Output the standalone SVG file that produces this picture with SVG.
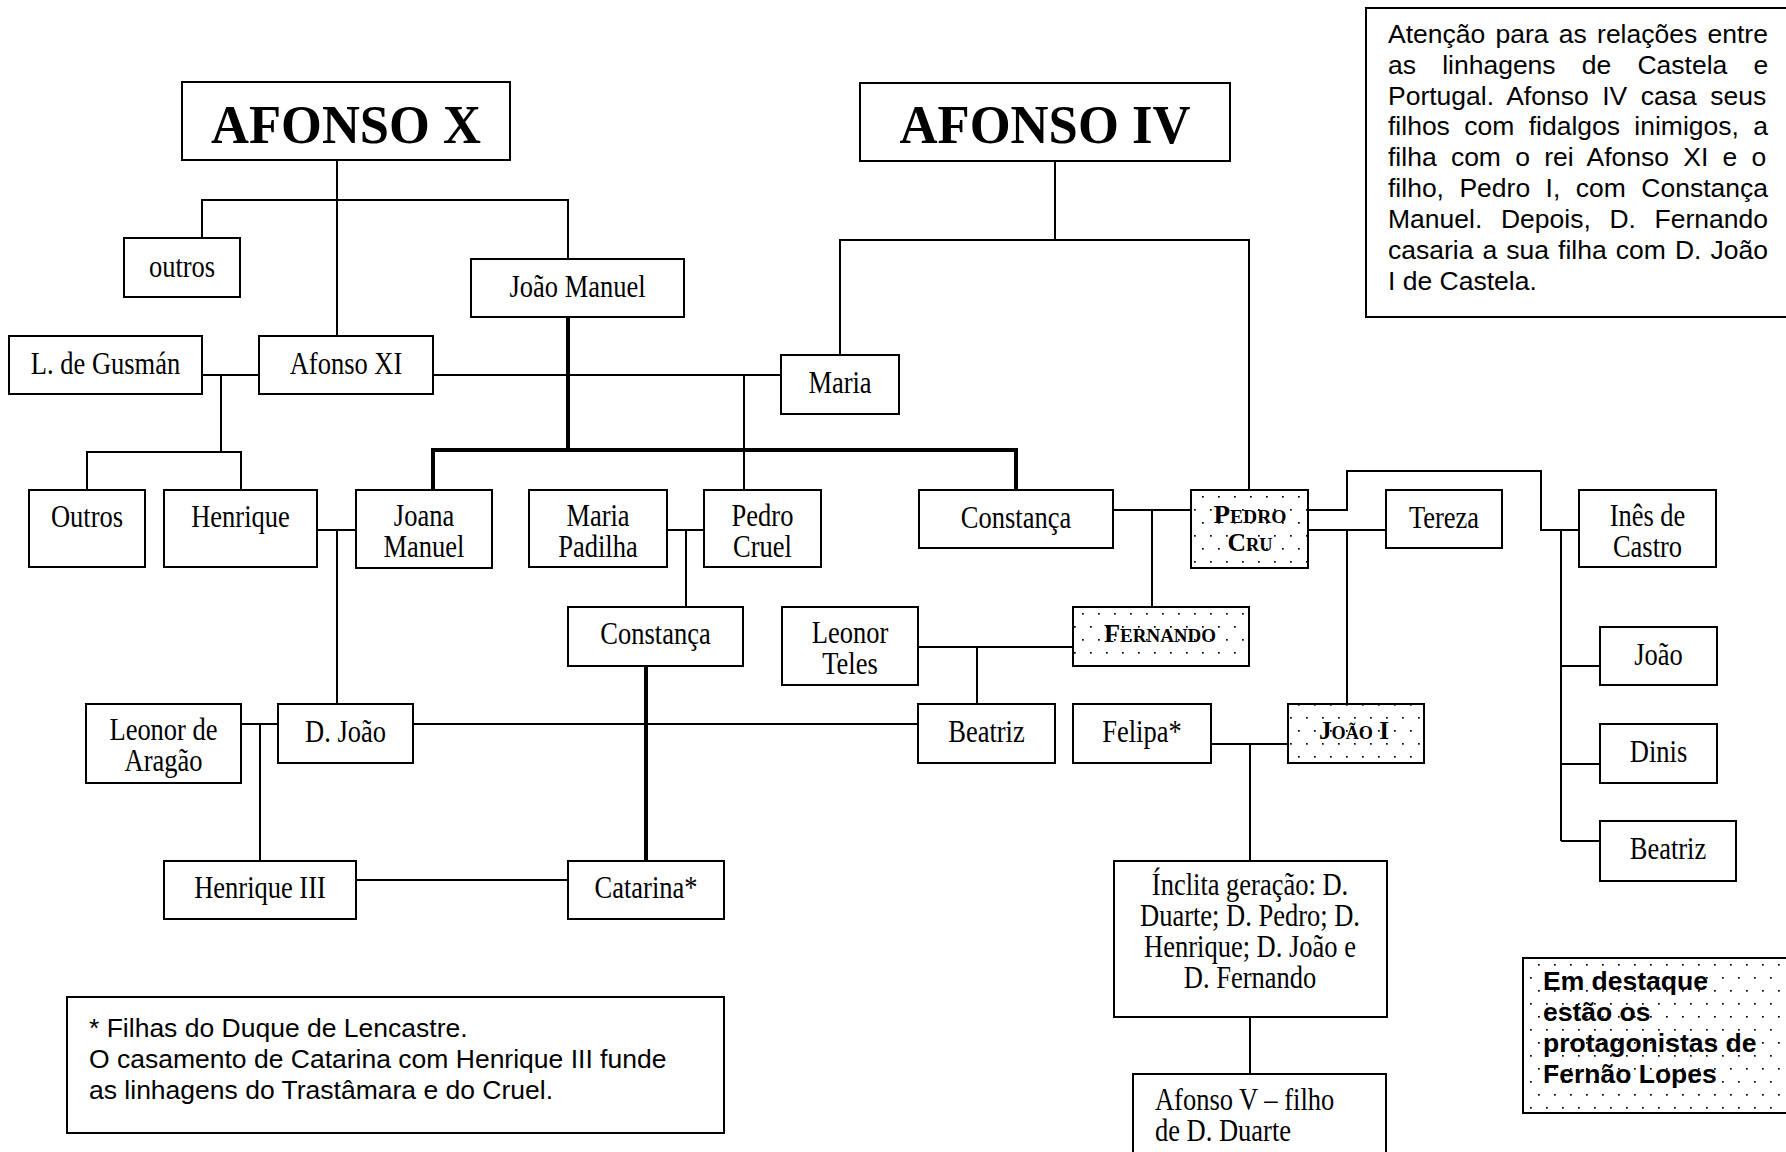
<svg xmlns="http://www.w3.org/2000/svg" width="1786" height="1152" viewBox="0 0 1786 1152">
<defs>
<pattern id="dots" width="16" height="26" patternUnits="userSpaceOnUse">
<rect width="16" height="26" fill="#fff"/>
<rect x="2" y="2" width="1.7" height="1.7" fill="#000"/>
<rect x="10" y="15" width="1.7" height="1.7" fill="#000"/>
</pattern>
<style>
.box{fill:#fff;stroke:#000;stroke-width:2}
.dot{fill:url(#dots);stroke:#000;stroke-width:2}
.n{font-family:"Liberation Serif","Times New Roman",serif;font-size:32px;text-anchor:middle;fill:#000}
.s{text-anchor:start}
.sc{font-family:"Liberation Serif","Times New Roman",serif;font-weight:bold;font-variant:small-caps;font-size:25px;text-anchor:middle;fill:#000}
.title{font-family:"Liberation Serif","Times New Roman",serif;font-weight:bold;font-size:54px;text-anchor:middle;fill:#000}
.t{font-family:"Liberation Sans",Arial,sans-serif;font-size:26.5px;fill:#000}
.tb{font-family:"Liberation Sans",Arial,sans-serif;font-size:26.5px;font-weight:bold;fill:#000}
.ln{fill:none;stroke:#000;stroke-width:2}
.thick{fill:none;stroke:#000;stroke-width:4}
</style>
</defs>
<rect width="1786" height="1152" fill="#fff"/>

<g id="connectors">
<path class="ln" d="M337,160 V336"/>
<path class="ln" d="M202,238 V200 H568 V259"/>
<path class="ln" d="M202,375 H259"/>
<path class="ln" d="M221,375 V452"/>
<path class="ln" d="M87,490 V452 H241 V490"/>
<path class="ln" d="M433,375 H781"/>
<path class="ln" d="M744,375 V490"/>
<path class="ln" d="M1055,161 V240"/>
<path class="ln" d="M840,355 V240 H1249 V490"/>
<path class="ln" d="M317,530 H356"/>
<path class="ln" d="M337,530 V704"/>
<path class="ln" d="M667,530 H704"/>
<path class="ln" d="M686,530 V607"/>
<path class="ln" d="M241,724 H278"/>
<path class="ln" d="M260,724 V861"/>
<path class="ln" d="M413,724 H918"/>
<path class="ln" d="M356,880 H568"/>
<path class="ln" d="M1113,510 H1191"/>
<path class="ln" d="M1152,510 V607"/>
<path class="ln" d="M918,647 H1073"/>
<path class="ln" d="M977,647 V704"/>
<path class="ln" d="M1308,510 H1347 V471 H1541 V530 H1579"/>
<path class="ln" d="M1308,530 H1386"/>
<path class="ln" d="M1347,530 V704"/>
<path class="ln" d="M1211,744 H1288"/>
<path class="ln" d="M1250,744 V861"/>
<path class="ln" d="M1250,1017 V1074"/>
<path class="ln" d="M1561,530 V841 M1561,666 H1600 M1561,764 H1600 M1561,841 H1600"/>
<path class="thick" d="M568,317 V450"/>
<path class="thick" d="M433,490 V450 H1016 V490"/>
<path class="thick" d="M646,666 V861"/>
</g>

<g id="afonso-x"><rect class="box" x="182" y="82" width="328" height="78"/><text class="title" x="346" y="143" textLength="270" lengthAdjust="spacingAndGlyphs">AFONSO X</text></g>
<g id="afonso-iv"><rect class="box" x="860" y="83" width="370" height="78"/><text class="title" x="1045" y="143" textLength="291" lengthAdjust="spacingAndGlyphs">AFONSO IV</text></g>
<g id="outros-1"><rect class="box" x="124" y="238" width="116" height="59"/><text class="n" transform="matrix(0.828 0 0 1 182 0)" x="0" y="277">outros</text></g>
<g id="joao-manuel"><rect class="box" x="471" y="259" width="213" height="58"/><text class="n" transform="matrix(0.828 0 0 1 577.5 0)" x="0" y="297">João Manuel</text></g>
<g id="gusman"><rect class="box" x="9" y="336" width="193" height="58"/><text class="n" transform="matrix(0.828 0 0 1 105.5 0)" x="0" y="374">L. de Gusmán</text></g>
<g id="afonso-xi"><rect class="box" x="259" y="336" width="174" height="58"/><text class="n" transform="matrix(0.828 0 0 1 346 0)" x="0" y="374">Afonso XI</text></g>
<g id="maria"><rect class="box" x="781" y="355" width="118" height="59"/><text class="n" transform="matrix(0.828 0 0 1 840 0)" x="0" y="393">Maria</text></g>
<g id="outros-2"><rect class="box" x="29" y="490" width="116" height="77"/><text class="n" transform="matrix(0.828 0 0 1 87 0)" x="0" y="527">Outros</text></g>
<g id="henrique"><rect class="box" x="164" y="490" width="153" height="77"/><text class="n" transform="matrix(0.828 0 0 1 240.5 0)" x="0" y="527">Henrique</text></g>
<g id="joana-manuel"><rect class="box" x="356" y="490" width="136" height="78"/><text class="n" transform="matrix(0.828 0 0 1 424 0)" x="0" y="526">Joana</text><text class="n" transform="matrix(0.828 0 0 1 424 0)" x="0" y="557">Manuel</text></g>
<g id="maria-padilha"><rect class="box" x="529" y="490" width="138" height="77"/><text class="n" transform="matrix(0.828 0 0 1 598 0)" x="0" y="526">Maria</text><text class="n" transform="matrix(0.828 0 0 1 598 0)" x="0" y="557">Padilha</text></g>
<g id="pedro-cruel"><rect class="box" x="704" y="490" width="117" height="77"/><text class="n" transform="matrix(0.828 0 0 1 762.5 0)" x="0" y="526">Pedro</text><text class="n" transform="matrix(0.828 0 0 1 762.5 0)" x="0" y="557">Cruel</text></g>
<g id="constanca-1"><rect class="box" x="919" y="490" width="194" height="58"/><text class="n" transform="matrix(0.828 0 0 1 1016 0)" x="0" y="528">Constança</text></g>
<g id="pedro-cru"><rect class="dot" x="1191" y="490" width="117" height="78"/><text class="sc" x="1250" y="523" textLength="73" lengthAdjust="spacingAndGlyphs">Pedro</text><text class="sc" x="1250" y="551" textLength="45" lengthAdjust="spacingAndGlyphs">Cru</text></g>
<g id="tereza"><rect class="box" x="1386" y="490" width="116" height="58"/><text class="n" transform="matrix(0.828 0 0 1 1444 0)" x="0" y="528">Tereza</text></g>
<g id="ines-de-castro"><rect class="box" x="1579" y="490" width="137" height="77"/><text class="n" transform="matrix(0.828 0 0 1 1647.5 0)" x="0" y="526">Inês de</text><text class="n" transform="matrix(0.828 0 0 1 1647.5 0)" x="0" y="557">Castro</text></g>
<g id="constanca-2"><rect class="box" x="568" y="607" width="175" height="59"/><text class="n" transform="matrix(0.828 0 0 1 655.5 0)" x="0" y="644">Constança</text></g>
<g id="leonor-teles"><rect class="box" x="782" y="607" width="136" height="78"/><text class="n" transform="matrix(0.828 0 0 1 850 0)" x="0" y="643">Leonor</text><text class="n" transform="matrix(0.828 0 0 1 850 0)" x="0" y="674">Teles</text></g>
<g id="fernando"><rect class="dot" x="1073" y="607" width="176" height="59"/><text class="sc" x="1160" y="642" textLength="112" lengthAdjust="spacingAndGlyphs">Fernando</text></g>
<g id="joao"><rect class="box" x="1600" y="627" width="117" height="58"/><text class="n" transform="matrix(0.828 0 0 1 1658.5 0)" x="0" y="665">João</text></g>
<g id="leonor-de-aragao"><rect class="box" x="86" y="704" width="155" height="79"/><text class="n" transform="matrix(0.828 0 0 1 163.5 0)" x="0" y="740">Leonor de</text><text class="n" transform="matrix(0.828 0 0 1 163.5 0)" x="0" y="771">Aragão</text></g>
<g id="d-joao"><rect class="box" x="278" y="704" width="135" height="59"/><text class="n" transform="matrix(0.828 0 0 1 345.5 0)" x="0" y="742">D. João</text></g>
<g id="beatriz-1"><rect class="box" x="918" y="704" width="137" height="59"/><text class="n" transform="matrix(0.828 0 0 1 986.5 0)" x="0" y="742">Beatriz</text></g>
<g id="felipa"><rect class="box" x="1073" y="704" width="138" height="59"/><text class="n" transform="matrix(0.828 0 0 1 1142 0)" x="0" y="742">Felipa*</text></g>
<g id="joao-i"><rect class="dot" x="1288" y="704" width="136" height="59"/><text class="sc" x="1354" y="739" textLength="70" lengthAdjust="spacingAndGlyphs">João I</text></g>
<g id="dinis"><rect class="box" x="1600" y="724" width="117" height="59"/><text class="n" transform="matrix(0.828 0 0 1 1658.5 0)" x="0" y="762">Dinis</text></g>
<g id="beatriz-2"><rect class="box" x="1600" y="821" width="136" height="60"/><text class="n" transform="matrix(0.828 0 0 1 1668 0)" x="0" y="859">Beatriz</text></g>
<g id="henrique-iii"><rect class="box" x="164" y="861" width="192" height="58"/><text class="n" transform="matrix(0.828 0 0 1 260 0)" x="0" y="898">Henrique III</text></g>
<g id="catarina"><rect class="box" x="568" y="861" width="156" height="58"/><text class="n" transform="matrix(0.828 0 0 1 646 0)" x="0" y="898">Catarina*</text></g>
<g id="inclita-geracao"><rect class="box" x="1114" y="861" width="273" height="156"/>
<text class="n" transform="matrix(0.828 0 0 1 1250 0)" x="0" y="895">Ínclita geração: D.</text>
<text class="n" transform="matrix(0.828 0 0 1 1250 0)" x="0" y="926">Duarte; D. Pedro; D.</text>
<text class="n" transform="matrix(0.828 0 0 1 1250 0)" x="0" y="957">Henrique; D. João e</text>
<text class="n" transform="matrix(0.828 0 0 1 1250 0)" x="0" y="988">D. Fernando</text></g>
<g id="afonso-v"><rect class="box" x="1133" y="1074" width="253" height="90"/>
<text class="n s" transform="matrix(0.828 0 0 1 1155 0)" x="0" y="1110">Afonso V – filho</text>
<text class="n s" transform="matrix(0.828 0 0 1 1155 0)" x="0" y="1141">de D. Duarte</text></g>

<g id="note-top"><rect class="box" x="1366" y="8" width="425" height="309"/>
<text class="t" x="1388" y="43" word-spacing="2.9">Atenção para as relações entre</text>
<text class="t" x="1388" y="74" word-spacing="18.8">as linhagens de Castela e</text>
<text class="t" x="1388" y="105" word-spacing="6.2">Portugal. Afonso IV casa seus</text>
<text class="t" x="1388" y="135" word-spacing="7">filhos com fidalgos inimigos, a</text>
<text class="t" x="1388" y="166" word-spacing="6.9">filha com o rei Afonso XI e o</text>
<text class="t" x="1388" y="197" word-spacing="8.1">filho, Pedro I, com Constança</text>
<text class="t" x="1388" y="228" word-spacing="11.3">Manuel. Depois, D. Fernando</text>
<text class="t" x="1388" y="259" word-spacing="1.7">casaria a sua filha com D. João</text>
<text class="t" x="1388" y="290">I de Castela.</text></g>

<g id="footnote"><rect class="box" x="67" y="997" width="657" height="136"/>
<text class="t" x="89" y="1037">* Filhas do Duque de Lencastre.</text>
<text class="t" x="89" y="1068">O casamento de Catarina com Henrique III funde</text>
<text class="t" x="89" y="1099">as linhagens do Trastâmara e do Cruel.</text></g>

<g id="destaque"><rect class="dot" x="1523" y="958" width="270" height="155"/>
<text class="tb" x="1543" y="990">Em destaque</text>
<text class="tb" x="1543" y="1021">estão os</text>
<text class="tb" x="1543" y="1052">protagonistas de</text>
<text class="tb" x="1543" y="1083">Fernão Lopes</text></g>
</svg>
